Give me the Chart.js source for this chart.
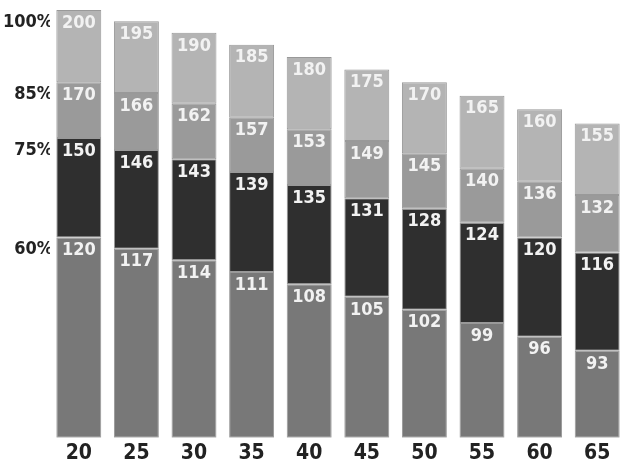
<!DOCTYPE html>
<html>
<head>
<meta charset="utf-8">
<script src="https://cdn.jsdelivr.net/npm/chart.js@4"></script>
<style>
  html, body { margin: 0; padding: 0; background: #fff; overflow: hidden; }
  #wrap { width: 623px; height: 465px; overflow: hidden; }
</style>
</head>
<body>
<div id="wrap"><canvas id="chart" width="630" height="471"></canvas></div>
<script>
// edades y frecuencia cardiaca por zona
const edades = ["20", "25", "30", "35", "40", "45", "50", "55", "60", "65"];
const fcMax = [200, 195, 190, 185, 180, 175, 170, 165, 160, 155];
const fc85 = [170, 166, 162, 157, 153, 149, 145, 140, 136, 132];
const fc75 = [150, 146, 143, 139, 135, 131, 128, 124, 120, 116];
const fc60 = [120, 117, 114, 111, 108, 105, 102, 99, 96, 93];

// etiquetas del eje y (porcentajes sobre la primera barra)
const ticksPct = [120, 150, 170, 200];
const etiquetasPct = ["60%", "75%", "85%", "100%"];

const fuente = "'DejaVu Sans Condensed', 'DejaVu Sans', sans-serif";

function rango(bajo, alto) {
  return bajo.map((v, i) => [v, alto[i]]);
}

// plugin para escribir el valor arriba de cada segmento
const valoresPlugin = {
  id: "valores",
  afterDatasetsDraw(chart) {
    const ctx = chart.ctx;
    ctx.save();
    ctx.font = "bold 18px " + fuente;
    ctx.fillStyle = "#f2f2f2";
    ctx.textAlign = "center";
    ctx.textBaseline = "middle";
    chart.data.datasets.forEach((ds, i) => {
      const meta = chart.getDatasetMeta(i);
      meta.data.forEach((bar, j) => {
        const v = ds.data[j];
        const texto = Array.isArray(v) ? v[1] : v;
        ctx.fillText(String(texto), bar.x, bar.y + 13);
      });
    });
    ctx.restore();
  },
};

const ctx = document.getElementById("chart").getContext("2d");
const grafica = new Chart(ctx, {
  type: "bar",
  data: {
    labels: edades,
    datasets: [
      { label: "60%", data: fc60, backgroundColor: "#787878" },
      { label: "75%", data: rango(fc60, fc75), backgroundColor: "#2f2f2f" },
      { label: "85%", data: rango(fc75, fc85), backgroundColor: "#9a9a9a" },
      { label: "100%", data: rango(fc85, fcMax), backgroundColor: "#b4b4b4" },
    ],
  },
  options: {
    responsive: false,
    animation: false,
    layout: { padding: { top: 6, right: 4, bottom: 2, left: 0 } },
    datasets: {
      bar: {
        categoryPercentage: 1,
        barPercentage: 0.78,
        borderColor: "rgba(70,70,70,0.55)",
        borderWidth: 1,
        borderSkipped: false,
      },
    },
    plugins: {
      legend: { display: false },
      tooltip: { enabled: false },
    },
    scales: {
      x: {
        stacked: true,
        grid: { display: false, drawTicks: false },
        border: { display: false },
        ticks: {
          padding: 3,
          color: "#222",
          font: { family: fuente, size: 21, weight: "bold" },
        },
      },
      y: {
        type: "logarithmic",
        stacked: false,
        min: 76.5,
        max: 201,
        grid: { display: false, drawTicks: false },
        border: { display: false },
        afterBuildTicks: (scale) => {
          scale.ticks = ticksPct.map((v) => ({ value: v }));
        },
        afterFit: (scale) => {
          scale.width = 50;
        },
        ticks: {
          padding: -3,
          labelOffset: 12,
          color: "#222",
          font: { family: fuente, size: 18, weight: "bold" },
          callback: (value) => {
            const i = ticksPct.indexOf(value);
            return i >= 0 ? etiquetasPct[i] : "";
          },
        },
      },
    },
  },
  plugins: [valoresPlugin],
});
</script>
</body>
</html>
